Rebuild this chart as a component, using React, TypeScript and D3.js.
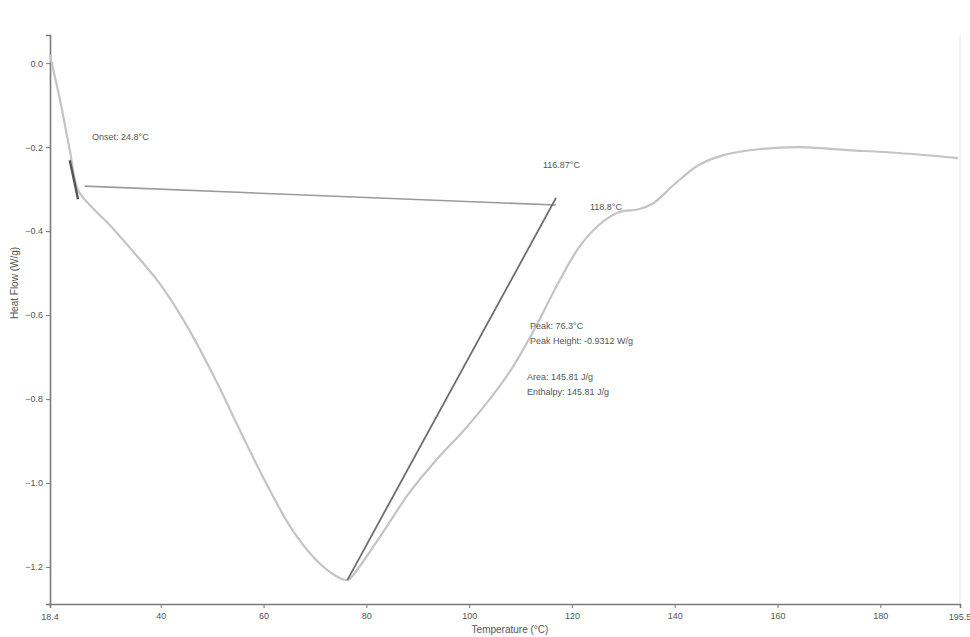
// App.tsx
import React, { useEffect, useRef } from "react";
import * as d3 from "d3";

// DSC scan: temperature (°C) vs heat flow (W/g)
const temperature = [
  18.45, 20.4, 22.3, 23.9, 26.2, 30.1, 34.0, 39.8, 45.2, 50.5, 55.3, 60.2, 65.0,
  69.9, 73.8, 76.3, 78.6, 83.5, 88.3, 93.6, 99.0, 103.9, 108.1, 112.6, 117.1,
  121.3, 125.2, 129.1, 133.0, 135.9, 139.8, 144.6, 149.5, 156.3, 164.1, 173.8,
  183.5, 195.1,
];
const heatFlow = [
  0.019, -0.088, -0.207, -0.302, -0.338, -0.386, -0.44, -0.525, -0.628, -0.75,
  -0.872, -0.993, -1.1, -1.179, -1.219, -1.231, -1.2, -1.112, -1.024, -0.945,
  -0.874, -0.802, -0.731, -0.636, -0.529, -0.44, -0.386, -0.355, -0.348, -0.333,
  -0.29, -0.243, -0.219, -0.205, -0.2, -0.207, -0.214, -0.226,
];

const xTicks = [40, 60, 80, 100, 120, 140, 160, 180];
const yTicks = [0, -0.2, -0.4, -0.6, -0.8, -1.0, -1.2];
const xDomain = [18.45, 195.5];
const yDomain = [-1.288, 0.067];

// analysis lines (start / end points)
const baselineLine = [
  [25.2, -0.293],
  [116.9, -0.338],
];
const leadingTangent = [
  [76.3, -1.231],
  [116.9, -0.321],
];
const onsetMark = [
  [22.3, -0.231],
  [23.9, -0.324],
];

const W = 970;
const H = 637;

const App = () => {
  const ref = useRef<SVGSVGElement>(null);

  useEffect(() => {
    const svg = d3.select(ref.current);
    svg.selectAll("*").remove();

    const x = d3.scaleLinear().domain(xDomain).range([50, 960]);
    const y = d3.scaleLinear().domain(yDomain).range([604, 35]);

    const font = "'Liberation Sans', Arial, sans-serif";
    const axisColor = "#7a7a7a";
    const textColor = "#555";

    // frame on the right
    svg
      .append("line")
      .attr("x1", 960)
      .attr("x2", 960)
      .attr("y1", 35)
      .attr("y2", 604)
      .attr("stroke", "#e4e4e4");

    // x axis
    const gx = svg
      .append("g")
      .attr("transform", "translate(0,604)")
      .call(
        d3
          .axisBottom(x)
          .tickValues(xTicks)
          .tickSize(4)
          .tickFormat((d) => d3.format(".0f")(d as number))
      );
    gx.select(".domain").attr("stroke", axisColor).attr("stroke-width", 1.6);
    gx.selectAll(".tick line").attr("stroke", axisColor);
    gx.selectAll(".tick text")
      .attr("fill", textColor)
      .attr("font-size", 9)
      .attr("font-family", font)
      .attr("dy", "0.9em");

    // end labels of the x axis
    svg
      .selectAll(".x-end")
      .data(xDomain)
      .enter()
      .append("text")
      .attr("class", "x-end")
      .attr("x", (d) => x(d))
      .attr("y", 620)
      .attr("text-anchor", "middle")
      .attr("font-size", 9)
      .attr("font-family", font)
      .attr("fill", textColor)
      .text((d) => d3.format(".1f")(d));

    // y axis
    const gy = svg
      .append("g")
      .attr("transform", "translate(50,0)")
      .call(
        d3
          .axisLeft(y)
          .tickValues(yTicks)
          .tickSize(4)
          .tickFormat((d) => d3.format(".1f")(d as number))
      );
    gy.select(".domain").attr("stroke", axisColor).attr("stroke-width", 1.6);
    gy.selectAll(".tick line").attr("stroke", axisColor);
    gy.selectAll(".tick text")
      .attr("fill", textColor)
      .attr("font-size", 9)
      .attr("font-family", font);

    // axis titles
    svg
      .append("text")
      .attr("transform", "translate(18,283) rotate(-90)")
      .attr("text-anchor", "middle")
      .attr("font-size", 10)
      .attr("font-family", font)
      .attr("fill", textColor)
      .text("Heat Flow (W/g)");

    svg
      .append("text")
      .attr("x", 510)
      .attr("y", 633)
      .attr("text-anchor", "middle")
      .attr("font-size", 10)
      .attr("font-family", font)
      .attr("fill", textColor)
      .text("Temperature (°C)");

    // DSC curve
    const pts = temperature.map((t, i) => [t, heatFlow[i]] as [number, number]);
    const line = d3
      .line<[number, number]>()
      .x((d) => x(d[0]))
      .y((d) => y(d[1]))
      .curve(d3.curveCatmullRom.alpha(0.5));

    svg
      .append("path")
      .datum(pts)
      .attr("d", line)
      .attr("fill", "none")
      .attr("stroke", "#c4c4c4")
      .attr("stroke-width", 2.2);

    // analysis lines
    const straight = d3
      .line<number[]>()
      .x((d) => x(d[0]))
      .y((d) => y(d[1]));

    svg
      .append("path")
      .attr("d", straight(baselineLine))
      .attr("stroke", "#9a9a9a")
      .attr("stroke-width", 1.6)
      .attr("fill", "none");

    svg
      .append("path")
      .attr("d", straight(leadingTangent))
      .attr("stroke", "#6e6e6e")
      .attr("stroke-width", 1.8)
      .attr("fill", "none");

    svg
      .append("path")
      .attr("d", straight(onsetMark))
      .attr("stroke", "#555")
      .attr("stroke-width", 2.4)
      .attr("fill", "none");

    // annotations
    const notes = [
      { x: 92, y: 140, t: "Onset: 24.8°C" },
      { x: 543, y: 168, t: "116.87°C" },
      { x: 590, y: 210, t: "118.8°C" },
      { x: 530, y: 329, t: "Peak: 76.3°C" },
      { x: 530, y: 344, t: "Peak Height: -0.9312 W/g" },
      { x: 527, y: 380, t: "Area: 145.81 J/g" },
      { x: 527, y: 395, t: "Enthalpy: 145.81 J/g" },
    ];
    svg
      .selectAll(".note")
      .data(notes)
      .enter()
      .append("text")
      .attr("class", "note")
      .attr("x", (d) => d.x)
      .attr("y", (d) => d.y)
      .attr("font-size", 9)
      .attr("font-family", font)
      .attr("fill", textColor)
      .text((d) => d.t);
  }, []);

  return (
    <svg
      ref={ref}
      width={W}
      height={H}
      style={{ position: "absolute", left: 0, top: 0, background: "#fff" }}
    />
  );
};

export default App;
